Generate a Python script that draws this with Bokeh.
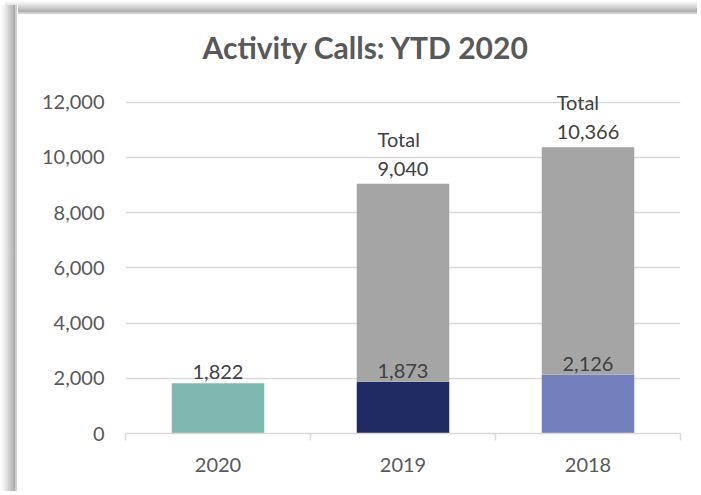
from bokeh.plotting import figure
from bokeh.models import ColumnDataSource, Range1d, FixedTicker, NumeralTickFormatter, LabelSet
from bokeh.core.properties import value
from bokeh.embed import file_html
from bokeh.resources import INLINE

# ---- data ----
years = ["2020", "2019", "2018"]
ytd_calls = [1822, 1873, 2126]
full_year_totals = [None, 9040, 10366]
bar_colors = ["#7fb8b0", "#212b63", "#7480be"]
y_ticks = [0, 2000, 4000, 6000, 8000, 10000, 12000]

TEXT_GRAY = "#595959"
LABEL_COLOR = "#404040"
GRID = "#d9d9d9"
FONT = "Lato"

xs = [i + 0.5 for i in range(len(years))]

p = figure(
    width=697, height=491,
    x_range=Range1d(0, len(years)),
    y_range=Range1d(0, 13000),
    output_backend="svg", toolbar_location=None,
    min_border_left=125, min_border_right=17,
    min_border_top=74, min_border_bottom=58,
)
p.styles = {
    "background": (
        "linear-gradient(to right, #ffffff 0px, #f2f2f2 4px, #a9a9a9 15px, #cfcfcf 15px, #cfcfcf 17px, #ffffff 17px) "
        "0 5px / 18px calc(100% - 5px) no-repeat, "
        "linear-gradient(to bottom, #ffffff 0px, #f2f2f2 3px, #a9a9a9 12px, #cfcfcf 12px, #cfcfcf 14px, #ffffff 14px) "
        "5px 0 / calc(100% - 5px) 15px no-repeat, #ffffff"
    )
}
p.outline_line_color = None
p.background_fill_color = "white"
p.border_fill_color = None

# title
p.title.text = "Activity Calls: YTD 2020"
p.title.text_font = FONT
p.title.text_font_size = "30px"
p.title.text_font_style = "bold"
p.title.text_color = TEXT_GRAY
p.title.align = "left"
p.title.offset = 77
p.title.standoff = 19

# ytd bars
ytd_src = ColumnDataSource(dict(x=xs, top=ytd_calls, color=bar_colors,
                                label=[f"{v:,}" for v in ytd_calls]))
# total (remainder) bars
tx, tb, tt, tl = [], [], [], []
for x, y, t in zip(xs, ytd_calls, full_year_totals):
    if t is not None:
        tx.append(x); tb.append(y); tt.append(t); tl.append(f"Total\n{t:,}")
tot_src = ColumnDataSource(dict(x=tx, bottom=tb, top=tt, label=tl))

p.vbar(x="x", top="top", bottom=0, width=0.5, color="color", source=ytd_src, line_color=None)
p.vbar(x="x", top="top", bottom="bottom", width=0.5, color="#a5a5a5", source=tot_src, line_color=None)

ytd_labels = LabelSet(x="x", y="top", text="label", source=ytd_src, text_align="center",
                      text_baseline="bottom", y_offset=4, text_font=value(FONT),
                      text_font_size=value("20px"), text_color=value(LABEL_COLOR))
tot_labels = LabelSet(x="x", y="top", text="label", source=tot_src, text_align="center",
                      text_baseline="bottom", y_offset=4, text_font=value(FONT),
                      text_font_size=value("20px"), text_color=value(LABEL_COLOR),
                      text_line_height=1.2)
p.add_layout(ytd_labels)
p.add_layout(tot_labels)

# axes
p.yaxis.ticker = FixedTicker(ticks=y_ticks)
p.yaxis.formatter = NumeralTickFormatter(format="0,0")
p.yaxis.axis_line_color = None
p.yaxis.major_tick_line_color = None
p.yaxis.minor_tick_line_color = None
p.yaxis.major_label_standoff = 15
p.yaxis.major_label_text_font = FONT
p.yaxis.major_label_text_font_size = "20px"
p.yaxis.major_label_text_color = TEXT_GRAY

p.xaxis.ticker = FixedTicker(ticks=xs, minor_ticks=list(range(len(years) + 1)))
p.xaxis.major_label_overrides = {x: y for x, y in zip(xs, years)}
p.xaxis.axis_line_color = GRID
p.xaxis.axis_line_width = 1.5
p.xaxis.major_tick_line_color = None
p.xaxis.minor_tick_line_color = GRID
p.xaxis.minor_tick_line_width = 1.5
p.xaxis.minor_tick_out = 7
p.xaxis.minor_tick_in = 0
p.xaxis.major_label_standoff = 17
p.xaxis.major_label_text_font = FONT
p.xaxis.major_label_text_font_size = "20px"
p.xaxis.major_label_text_color = TEXT_GRAY

p.xgrid.grid_line_color = None
p.ygrid.grid_line_color = GRID
p.ygrid.grid_line_width = 1.5

open("out.html", "w").write(file_html(p, INLINE))
